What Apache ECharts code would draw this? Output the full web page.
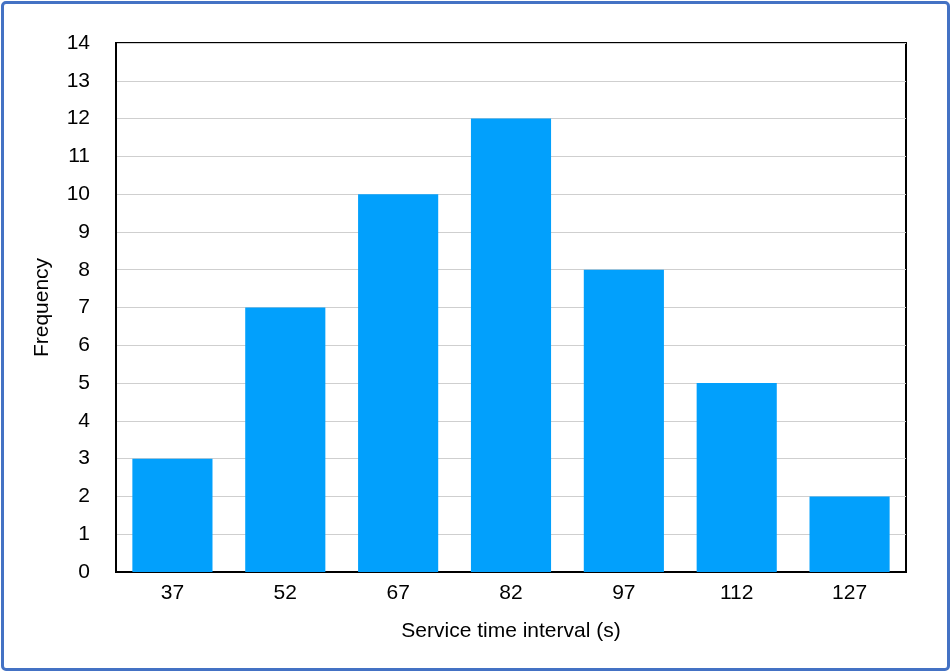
<!DOCTYPE html>
<html>
<head>
<meta charset="utf-8">
<script src="https://cdn.jsdelivr.net/npm/echarts@6/dist/echarts.min.js"></script>
<style>
  html, body { margin: 0; padding: 0; background: #fff; }
  #wrap { position: absolute; left: 1px; top: 1px; width: 943px; height: 664px;
          border: 3.5px solid #4472c4; border-radius: 5px; }
  #main { position: absolute; left: -4.5px; top: -4.5px; width: 950px; height: 671px; }
</style>
</head>
<body>
<div id="wrap"><div id="main"></div></div>
<script>
// 数据
var categories = ['37', '52', '67', '82', '97', '112', '127'];
var frequency = [3, 7, 10, 12, 8, 5, 2];

var chart = echarts.init(document.getElementById('main'));

var font = 'Liberation Sans';

var option = {
  animation: false,
  grid: {
    left: 116, right: 44, top: 43, bottom: 99,
    show: true, borderColor: '#000', borderWidth: 2
  },
  xAxis: {
    type: 'category',
    data: categories,
    name: 'Service time interval (s)',
    nameLocation: 'middle',
    nameGap: 49,
    nameTextStyle: { color: '#000', fontSize: 21, fontFamily: font },
    axisLine: { lineStyle: { color: '#000', width: 2 } },
    axisTick: { show: false },
    axisLabel: { color: '#000', fontSize: 21, margin: 11, fontFamily: font }
  },
  yAxis: {
    type: 'value',
    min: 0, max: 14, interval: 1,
    name: 'Frequency',
    nameLocation: 'middle',
    nameGap: 63,
    nameTextStyle: { color: '#000', fontSize: 21, fontFamily: font },
    axisLine: { show: true, lineStyle: { color: '#000', width: 2 } },
    axisTick: { show: false },
    axisLabel: { color: '#000', fontSize: 21, margin: 26, fontFamily: font },
    splitLine: { lineStyle: { color: '#cfcfcf', width: 1 } }
  },
  series: [{
    type: 'bar',
    data: frequency,
    barCategoryGap: '29%',
    itemStyle: { color: '#02a0fc' }
  }]
};

chart.setOption(option);
</script>
</body>
</html>
